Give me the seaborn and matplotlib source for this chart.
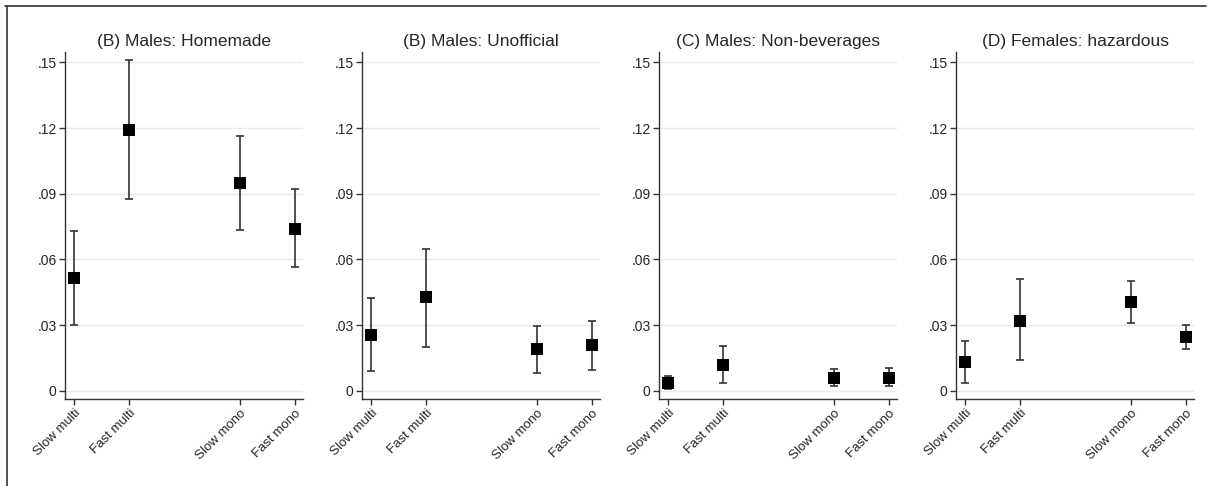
import numpy as np
import pandas as pd
import matplotlib
matplotlib.use("Agg")
import matplotlib.pyplot as plt
import seaborn as sns
from matplotlib.lines import Line2D

# ===============================
# DATA
# ===============================
categories = ["Slow multi", "Fast multi", "Slow mono", "Fast mono"]
positions = [1, 2, 4, 5]

titles = ["(B) Males: Homemade", "(B) Males: Unofficial",
          "(C) Males: Non-beverages", "(D) Females: hazardous"]

homemade_est = [0.0515, 0.1193, 0.0949, 0.0740]
homemade_lo = [0.0301, 0.0876, 0.0736, 0.0565]
homemade_hi = [0.0729, 0.1512, 0.1162, 0.0920]

unofficial_est = [0.0255, 0.0427, 0.0191, 0.0209]
unofficial_lo = [0.0091, 0.0200, 0.0082, 0.0095]
unofficial_hi = [0.0423, 0.0650, 0.0295, 0.0318]

nonbev_est = [0.0035, 0.0118, 0.0060, 0.0061]
nonbev_lo = [0.0008, 0.0038, 0.0024, 0.0023]
nonbev_hi = [0.0068, 0.0207, 0.0098, 0.0103]

females_est = [0.0131, 0.0321, 0.0405, 0.0245]
females_lo = [0.0037, 0.0143, 0.0312, 0.0193]
females_hi = [0.0227, 0.0509, 0.0503, 0.0302]

panels = [
    (homemade_est, homemade_lo, homemade_hi),
    (unofficial_est, unofficial_lo, unofficial_hi),
    (nonbev_est, nonbev_lo, nonbev_hi),
    (females_est, females_lo, females_hi),
]

y_ticks = [0, 0.03, 0.06, 0.09, 0.12, 0.15]
y_ticklabels = ["0", ".03", ".06", ".09", ".12", ".15"]

# ===============================
# STYLE
# ===============================
sns.set_style("white")
plt.rcParams["font.family"] = ["Liberation Sans", "DejaVu Sans"]

fig = plt.figure(figsize=(12.07, 4.86), dpi=100)

# outer frame (top and left edges of the cropped graph box)
fig.add_artist(Line2D([0.004, 0.9995], [0.988, 0.988], color="#333333", lw=1.2,
                      transform=fig.transFigure))
fig.add_artist(Line2D([0.0062, 0.0062], [0.0, 0.988], color="#333333", lw=1.2,
                      transform=fig.transFigure))

left0 = 65 / 1207
step = 297 / 1207
width = 238 / 1207
bottom = 1 - 399 / 486
height = (399 - 52) / 486

for i, (est, lo, hi) in enumerate(panels):
    ax = fig.add_axes([left0 + i * step, bottom, width, height])
    df = pd.DataFrame({"pos": positions, "est": est, "lo": lo, "hi": hi})

    for y in y_ticks:
        ax.axhline(y, color="#eaeaea", lw=1.0, zorder=0)

    ax.errorbar(df["pos"], df["est"],
                yerr=[df["est"] - df["lo"], df["hi"] - df["est"]],
                fmt="none", ecolor="#333333", elinewidth=1.2,
                capsize=3, capthick=1.2, zorder=2)
    sns.scatterplot(data=df, x="pos", y="est", marker="s", s=85,
                    color="black", edgecolor="black", linewidth=0,
                    ax=ax, zorder=3)

    ax.set_xlim(0.83, 5.15)
    ax.set_ylim(-0.0037, 0.1547)
    ax.set_yticks(y_ticks)
    ax.set_yticklabels(y_ticklabels)
    ax.set_xticks(positions)
    ax.set_xticklabels(categories, rotation=45, ha="right",
                       rotation_mode="anchor")
    ax.tick_params(axis="both", length=4, width=1,
                   color="#333333", direction="out", pad=2, left=True, bottom=True)
    ax.tick_params(axis="y", labelsize=10)
    ax.tick_params(axis="x", labelsize=9.5)
    ax.set_xlabel("")
    ax.set_ylabel("")
    ax.set_title(titles[i], fontsize=12.5, pad=4)

    for side in ["top", "right"]:
        ax.spines[side].set_visible(False)
    for side in ["left", "bottom"]:
        ax.spines[side].set_color("#333333")
        ax.spines[side].set_linewidth(1.0)

fig.savefig("out.png", dpi=100)
